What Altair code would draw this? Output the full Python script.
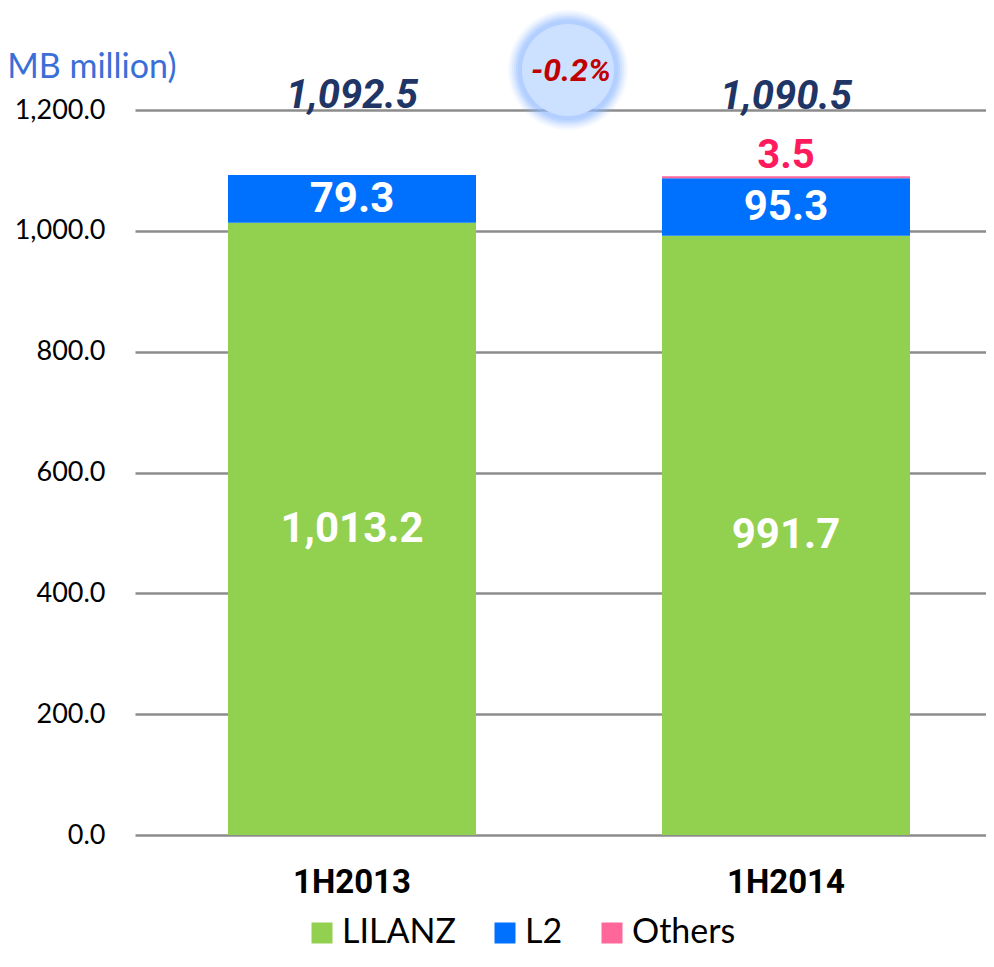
import altair as alt
import pandas as pd

periods = ["1H2013", "1H2014"]
brands = ["LILANZ", "L2", "Others"]
lilanz = [1013.2, 991.7]
l2 = [79.3, 95.3]
others = [0.0, 3.5]
totals = [1092.5, 1090.5]
change_label = ["-0.2%"]
colors = ["#92D050", "#0070FF", "#FF6699"]
y_ticks = [0, 200, 400, 600, 800, 1000, 1200]

rows = []
for i, p in enumerate(periods):
    base = 0.0
    for j, (b, vals) in enumerate(zip(brands, [lilanz, l2, others])):
        v = vals[i]
        rows.append(dict(period=p, brand=b, order=j, start=base, end=base + v,
                         mid=base + v / 2, value=v, label=f"{v:,.1f}"))
        base += v
df = pd.DataFrame(rows)
df_tot = pd.DataFrame({"period": periods, "total": totals,
                       "label": [f"{t:,.1f}" for t in totals]})
df_chg = pd.DataFrame({"label": change_label})

x_enc = alt.X("period:N", sort=periods,
              scale=alt.Scale(range=[0, 868], paddingInner=0.4286, paddingOuter=0.2143),
              axis=alt.Axis(title=None, labelAngle=0, domain=False, ticks=False, grid=False,
                            labelFont="Roboto", labelFontWeight="bold", labelFontSize=33,
                            labelColor="#000000", labelPadding=31))
y_scale = alt.Scale(domain=[0, 1200], nice=False)

bars = alt.Chart(df).mark_bar(size=248).encode(
    x=x_enc,
    y=alt.Y("start:Q", scale=y_scale,
            axis=alt.Axis(values=y_ticks, format=",.1f", domain=False, ticks=False,
                          grid=True, gridColor="#8C8C8C", gridWidth=2.5,
                          labelFont="Lato", labelFontSize=27, labelColor="#000000",
                          labelPadding=30,
                          title="(RMB million)", titleAngle=0, titleAlign="right",
                          titleBaseline="alphabetic", titleX=41, titleY=-33,
                          titleFont="Lato", titleFontSize=34, titleFontWeight="normal",
                          titleColor="#3A6FD8")),
    y2="end:Q",
    color=alt.Color("brand:N", scale=alt.Scale(domain=brands, range=colors),
                    legend=alt.Legend(title=None, orient="none", direction="horizontal",
                                      legendX=170, legendY=806, padding=0,
                                      symbolType="square", symbolSize=441,
                                      symbolStrokeWidth=0, symbolOpacity=1,
                                      labelFont="Lato", labelFontSize=34,
                                      labelColor="#000000", labelOffset=3,
                                      columnPadding=32)),
    order="order:Q",
)

inner = alt.Chart(df).transform_filter(
    "datum.brand != 'Others'"
).mark_text(font="Roboto", fontWeight="bold", fontSize=42, color="white",
            baseline="middle").encode(
    x=alt.X("period:N", sort=periods),
    y=alt.Y("mid:Q"),
    text="label:N",
)

oth = alt.Chart(df).transform_filter(
    "datum.brand == 'Others' && datum.value > 0"
).mark_text(font="Roboto", fontWeight="bold", fontSize=40, color="#FF1A5E",
            baseline="alphabetic", dy=-8).encode(
    x=alt.X("period:N", sort=periods),
    y=alt.Y("end:Q"),
    text="label:N",
)

tot = alt.Chart(df_tot).mark_text(font="Roboto", fontWeight="bold", fontStyle="italic",
                                  fontSize=40, color="#1F3566", baseline="alphabetic",
                                  dy=-67).encode(
    x=alt.X("period:N", sort=periods),
    y=alt.Y("total:Q"),
    text="label:N",
)

bubble_layers = []
for size, col, op in [(120 ** 2, "#8AB6FF", 0.08), (116 ** 2, "#8AB6FF", 0.1),
                      (112 ** 2, "#8AB6FF", 0.14), (108 ** 2, "#8AB6FF", 0.18),
                      (104 ** 2, "#8AB6FF", 0.24), (100 ** 2, "#9CC0FF", 0.3),
                      (92 ** 2, "#CCE0FF", 1.0)]:
    bubble_layers.append(
        alt.Chart(df_chg).mark_circle(size=size, color=col, opacity=op).encode(
            x=alt.value(433), y=alt.value(-40)))
chg_text = alt.Chart(df_chg).mark_text(font="Roboto", fontWeight="bold", fontStyle="italic",
                                       fontSize=32, color="#C00000",
                                       baseline="middle").encode(
    x=alt.value(436), y=alt.value(-39), text="label:N")

chart = alt.layer(bars, inner, oth, tot, *bubble_layers, chg_text).properties(
    width=851, height=725, autosize="none",
    padding={"left": 127, "top": 102, "right": 0, "bottom": 117},
).configure_view(stroke=None)

chart.save("out.html", embed_options={"renderer": "svg", "actions": False})
